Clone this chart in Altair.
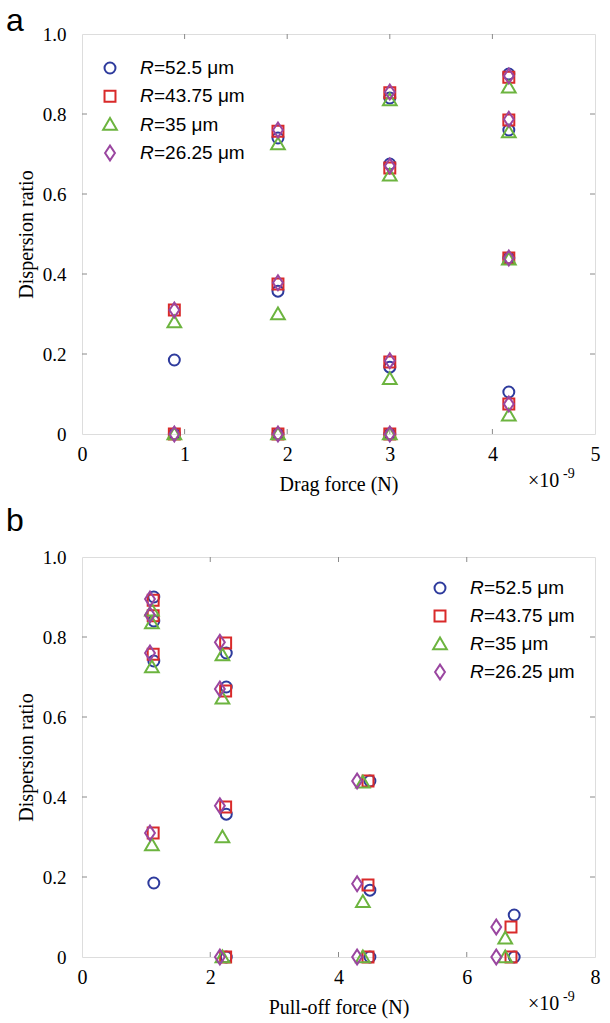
import altair as alt
import pandas as pd

SERIES = ["R=52.5 μm", "R=43.75 μm", "R=35 μm", "R=26.25 μm"]
LEGEND_TAIL = ["=52.5 μm", "=43.75 μm", "=35 μm", "=26.25 μm"]
SHAPES = ["circle", "square", "M-1.25,0.95L1.25,0.95L0,-1.2Z", "M-0.9,0L0,-1.35L0.9,0L0,1.35Z"]
COLORS = ["#2e3b9d", "#d92a2a", "#6cb43f", "#9a46a0"]

# ---- panel a : drag force (x 1e-9 N) ----
drag_x = [0.9, 0.9, 1.91, 1.91, 1.91, 3.0, 3.0, 3.0, 3.0, 4.16, 4.16, 4.16, 4.16]
drag_ratio_525 = [0.185, 0, 0.74, 0.357, 0, 0.84, 0.675, 0.167, 0, 0.90, 0.76, 0.44, 0.105]
drag_ratio_4375 = [0.31, 0, 0.757, 0.375, 0, 0.853, 0.665, 0.18, 0, 0.892, 0.785, 0.44, 0.075]
drag_ratio_35 = [0.28, 0, 0.725, 0.30, 0, 0.835, 0.647, 0.138, 0, 0.867, 0.755, 0.437, 0.047]
drag_ratio_2625 = [0.31, 0, 0.76, 0.378, 0, 0.855, 0.67, 0.183, 0, 0.895, 0.787, 0.44, 0.075]

# ---- panel b : pull-off force (x 1e-9 N) ----
pull_x_525 = [1.12, 1.12, 1.12, 1.12, 2.25, 2.25, 2.25, 2.25, 4.49, 4.49, 4.49, 6.74, 6.74]
pull_x_4375 = [1.11, 1.11, 1.11, 1.11, 2.24, 2.24, 2.24, 2.24, 4.46, 4.46, 4.46, 6.69, 6.69]
pull_x_35 = [1.09, 1.09, 1.09, 1.09, 2.19, 2.19, 2.19, 2.19, 4.38, 4.38, 4.38, 6.60, 6.60]
pull_x_2625 = [1.06, 1.06, 1.06, 1.06, 2.15, 2.15, 2.15, 2.15, 4.29, 4.29, 4.29, 6.46, 6.46]
pull_ratio_525 = [0.90, 0.84, 0.74, 0.185, 0.76, 0.675, 0.357, 0, 0.44, 0.167, 0, 0.105, 0]
pull_ratio_4375 = [0.892, 0.853, 0.757, 0.31, 0.785, 0.665, 0.375, 0, 0.44, 0.18, 0, 0.075, 0]
pull_ratio_35 = [0.867, 0.835, 0.725, 0.28, 0.755, 0.647, 0.30, 0, 0.437, 0.138, 0, 0.047, 0]
pull_ratio_2625 = [0.895, 0.855, 0.76, 0.31, 0.787, 0.67, 0.378, 0, 0.44, 0.183, 0, 0.075, 0]

y_ticks = [0, 0.2, 0.4, 0.6, 0.8, 1.0]
drag_ticks = [0, 1, 2, 3, 4, 5]
pull_ticks = [0, 2, 4, 6, 8]

SERIF = "Liberation Serif"
SANS = "Liberation Sans"
AX = "#8a8a8a"
W, H = 513, 400
TICK = 5
MSIZE = 120


def long_df(xs, ys):
    rows = []
    for name, xv, yv in zip(SERIES, xs, ys):
        for a, b in zip(xv, yv):
            rows.append({"series": name, "x": a, "y": b})
    return pd.DataFrame(rows)


shape_enc = alt.Shape("series:N", scale=alt.Scale(domain=SERIES, range=SHAPES), legend=None)
color_enc = alt.Color("series:N", scale=alt.Scale(domain=SERIES, range=COLORS), legend=None)


def panel(df, xdom, xticks, xtitle, label, label_y, leg_x, leg_range):
    xs = alt.Scale(domain=xdom, nice=False, zero=False)
    ys = alt.Scale(domain=[0, 1], nice=False)
    x_axis = alt.Axis(
        values=xticks, format="d", ticks=False, domain=False, grid=False,
        labelFont=SERIF, labelFontSize=20, labelColor="black", labelPadding=10,
        labelFlush=False, title=xtitle, titleFont=SERIF, titleFontSize=20,
        titleFontWeight="normal", titleColor="black", titlePadding=10)
    pts = alt.Chart(df).mark_point(filled=False, strokeWidth=2, size=MSIZE, opacity=1).encode(
        x=alt.X("x:Q", scale=xs, axis=x_axis),
        y=alt.Y("y:Q", scale=ys, axis=alt.Axis(
            values=y_ticks, labelExpr="datum.value == 0 ? '0' : format(datum.value, '.1f')",
            ticks=False, domain=False, grid=False, labelFont=SERIF, labelFontSize=19,
            labelColor="black", labelPadding=16, labelFlush=False,
            title="Dispersion ratio", titleFont=SERIF, titleFontSize=20,
            titleFontWeight="normal", titleColor="black", titlePadding=6)),
        shape=shape_enc,
        color=color_enc,
    )
    xt = pd.DataFrame({"x": xticks[1:-1]})
    yt = pd.DataFrame({"v": y_ticks[1:-1]})
    bot = alt.Chart(xt).mark_rule(color=AX, strokeWidth=1).encode(
        x=alt.X("x:Q", scale=xs, axis=x_axis), y=alt.value(H), y2=alt.value(H - TICK))
    top = alt.Chart(xt).mark_rule(color=AX, strokeWidth=1).encode(
        x=alt.X("x:Q", scale=xs, axis=x_axis), y=alt.value(0), y2=alt.value(TICK))
    lef = alt.Chart(yt).mark_rule(color=AX, strokeWidth=1).encode(
        y=alt.Y("v:Q", scale=ys, axis=None), x=alt.value(0), x2=alt.value(TICK))
    rig = alt.Chart(yt).mark_rule(color=AX, strokeWidth=1).encode(
        y=alt.Y("v:Q", scale=ys, axis=None), x=alt.value(W), x2=alt.value(W - TICK))

    leg = pd.DataFrame({"series": SERIES, "tail": LEGEND_TAIL, "R": ["R"] * 4, "row": [0, 1, 2, 3]})
    ly = alt.Y("row:Q", scale=alt.Scale(domain=[0, 3], range=leg_range), axis=None)
    leg_sym = alt.Chart(leg).mark_point(filled=False, strokeWidth=2, size=MSIZE, opacity=1).encode(
        x=alt.value(leg_x), y=ly, shape=shape_enc, color=color_enc)
    leg_r = alt.Chart(leg).mark_text(font=SANS, fontSize=19, fontStyle="italic", align="left",
                                     baseline="middle", color="black").encode(
        x=alt.value(leg_x + 30), y=ly, text="R:N")
    leg_t = alt.Chart(leg).mark_text(font=SANS, fontSize=19, align="left",
                                     baseline="middle", color="black").encode(
        x=alt.value(leg_x + 44), y=ly, text="tail:N")

    ex1 = alt.Chart(pd.DataFrame({"t": ["×10"]})).mark_text(
        font=SERIF, fontSize=20, align="left", baseline="alphabetic", color="black").encode(
        x=alt.value(446), y=alt.value(H + 53), text="t:N")
    ex2 = alt.Chart(pd.DataFrame({"t": ["-9"]})).mark_text(
        font=SERIF, fontSize=14, align="left", baseline="alphabetic", color="black").encode(
        x=alt.value(481), y=alt.value(H + 44), text="t:N")
    lab = alt.Chart(pd.DataFrame({"t": [label]})).mark_text(
        font=SANS, fontSize=32, align="left", baseline="alphabetic", color="black").encode(
        x=alt.value(-76), y=alt.value(label_y), text="t:N")

    return alt.layer(pts, bot, top, lef, rig, leg_sym, leg_r, leg_t, ex1, ex2, lab).resolve_scale(
        y="independent").properties(width=W, height=H)


df_a = long_df([drag_x] * 4, [drag_ratio_525, drag_ratio_4375, drag_ratio_35, drag_ratio_2625])
df_b = long_df([pull_x_525, pull_x_4375, pull_x_35, pull_x_2625],
               [pull_ratio_525, pull_ratio_4375, pull_ratio_35, pull_ratio_2625])

pa = panel(df_a, [0, 5], drag_ticks, "Drag force (N)", "a", -3, 28, [34, 119])
pb = panel(df_b, [0, 8], pull_ticks, "Pull-off force (N)", "b", -26, 358, [31, 115])

chart = alt.vconcat(pa, pb, spacing=9).properties(
    padding={"left": 5, "top": 4, "right": 5, "bottom": 2}
).configure_view(stroke=AX, strokeWidth=1).configure(background="white")

chart.save("out.html", embed_options={"renderer": "svg", "actions": False})
